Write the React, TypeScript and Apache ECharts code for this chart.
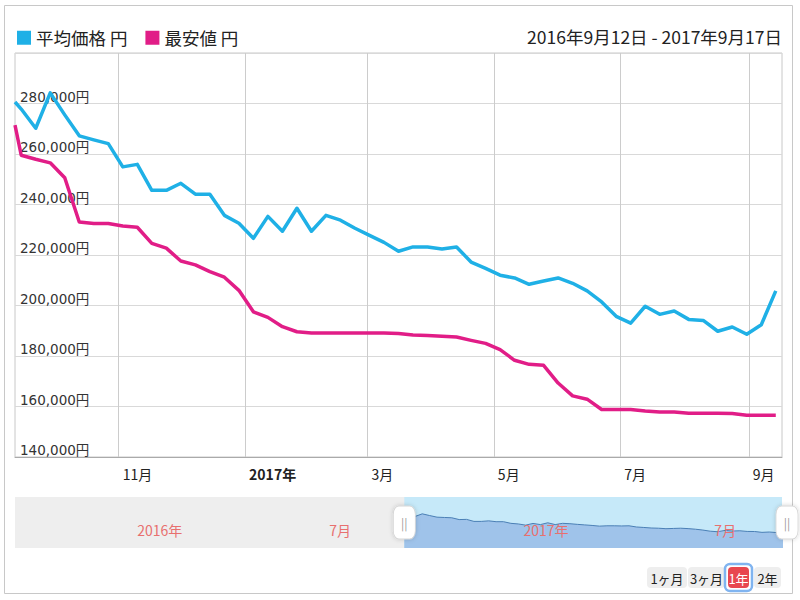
import React, { useEffect, useRef } from 'react';
import * as echarts from 'echarts';

const FONT = '"Noto Sans CJK JP", "Noto Sans", sans-serif';
const BLUE = '#1fb0e6';
const PINK = '#e11d87';
const DAY = 86400000;
const t = (y: number, m: number, d: number) => new Date(y, m - 1, d).getTime();

// first sample (range start) then weekly samples from 2016-09-15
const firstDate = t(2016, 9, 12);
const weeklyStart = t(2016, 9, 15);
const dates: number[] = [firstDate, ...Array.from({ length: 53 }, (_, i) => weeklyStart + i * 7 * DAY)];

const avgPrice = [
  280600, 277800, 270200, 284200, 275500, 267200, 265600, 264100, 254900, 255900,
  245600, 245600, 248400, 244100, 244100, 235700, 232600, 226600, 235300, 229400,
  238500, 229400, 235700, 233800, 230600, 227800, 225000, 221500, 223200, 223200,
  222400, 223200, 217200, 214700, 212000, 210900, 208400, 209700, 210900, 208800,
  205800, 201400, 195700, 193000, 199700, 196500, 197800, 194500, 194100, 189800,
  191500, 188600, 192400, 205800,
];
const minPrice = [
  271400, 259500, 257900, 256500, 250600, 233100, 232500, 232500, 231500, 231000,
  224600, 222700, 217600, 216100, 213400, 211200, 206000, 197500, 195300, 191600,
  189600, 189100, 189100, 189100, 189100, 189100, 189100, 188900, 188300, 188100,
  187800, 187500, 186200, 185000, 182500, 178300, 176700, 176300, 169300, 164200,
  162900, 158800, 158800, 158800, 158200, 157800, 157800, 157300, 157300, 157300,
  157200, 156500, 156500, 156500,
];

const seriesNames = ['平均価格 円', '最安値 円'];
const rangeText = '2016年9月12日 - 2017年9月17日';

const mainTicks = [t(2016, 11, 1), t(2017, 1, 1), t(2017, 3, 1), t(2017, 5, 1), t(2017, 7, 1), t(2017, 9, 1)];
const mainTickLabels = ['11月', '2017年', '3月', '5月', '7月', '9月'];
const navTicks = [t(2016, 1, 1), t(2016, 7, 1), t(2017, 1, 1), t(2017, 7, 1)];
const navTickLabels = ['2016年', '7月', '2017年', '7月'];
const yTicksMin = 140000;
const yTicksMax = 300000;
const yTickStep = 20000;

const viewStart = t(2016, 9, 12);
const viewEnd = t(2017, 9, 17);
const navStart = t(2015, 9, 9);
const navEnd = t(2017, 9, 5);

const rangeButtons = [
  { label: '1ヶ月', x: 647, w: 40, active: false },
  { label: '3ヶ月', x: 688, w: 37, active: false },
  { label: '1年', x: 728, w: 21, active: true },
  { label: '2年', x: 754, w: 27, active: false },
];

const labelFor = (ticks: number[], labels: string[], boldYear: boolean) => (v: number) => {
  let best = 0;
  let bd = Infinity;
  ticks.forEach((tk, i) => {
    const d = Math.abs(tk - v);
    if (d < bd) { bd = d; best = i; }
  });
  const s = labels[best];
  return boldYear && s.endsWith('年') ? `{b|${s}}` : s;
};

function buildOption() {
  const avgData = dates.map((d, i) => [d, avgPrice[i]]);
  const minData = dates.map((d, i) => [d, minPrice[i]]);
  const graphics: any[] = [
    {
      type: 'rect', silent: true, z: -10,
      shape: { x: 4.5, y: 5.5, width: 788, height: 588 },
      style: { fill: 'none', stroke: '#c8c8c8', lineWidth: 1 },
    },
  ];
  rangeButtons.forEach((b) => {
    if (b.active) {
      graphics.push({
        type: 'rect', silent: true,
        shape: { x: b.x - 3, y: 564, width: b.w + 6, height: 27, r: 5 },
        style: { fill: 'none', stroke: '#80b4f0', lineWidth: 2.5 },
      });
    }
    graphics.push({
      type: 'rect', silent: true,
      shape: { x: b.x, y: 567, width: b.w, height: 21, r: 4 },
      style: { fill: b.active ? '#e8474f' : '#eeeeee' },
    });
    graphics.push({
      type: 'text', silent: true,
      x: b.x + b.w / 2, y: 578,
      style: {
        text: b.label, fill: b.active ? '#ffffff' : '#222222', fontSize: 13,
        fontFamily: FONT, align: 'center', verticalAlign: 'middle',
      },
    });
  });

  return {
    animation: false,
    backgroundColor: '#ffffff',
    textStyle: { fontFamily: FONT },
    title: {
      text: rangeText, right: 13, top: 23,
      textStyle: { fontSize: 17.5, fontWeight: 'normal', color: '#222', fontFamily: FONT },
    },
    legend: {
      left: 12, top: 24, icon: 'rect', itemWidth: 14, itemHeight: 14, itemGap: 18,
      textStyle: { fontSize: 17.5, color: '#222', fontFamily: FONT },
      data: seriesNames,
    },
    grid: [
      { left: 15, top: 53, width: 767, height: 404, show: true, borderColor: '#c8c8c8', borderWidth: 1, outerBoundsMode: 'none' },
      { left: 15, top: 497, width: 767, height: 51, show: true, backgroundColor: '#eeeeee', borderWidth: 0, outerBoundsMode: 'none' },
    ],
    xAxis: [
      {
        type: 'value', gridIndex: 0, min: viewStart, max: viewEnd,
        axisLine: { show: true, lineStyle: { color: '#aaaaaa' } },
        axisTick: { show: false, customValues: mainTicks },
        axisLabel: {
          customValues: mainTicks, formatter: labelFor(mainTicks, mainTickLabels, true),
          align: 'left', margin: 10, padding: [0, 0, 0, 4], fontSize: 14, color: '#222', fontFamily: FONT,
          rich: { b: { fontWeight: 'bold', fontSize: 14, color: '#222', fontFamily: FONT } },
        },
        splitLine: { show: true, lineStyle: { color: '#cccccc', width: 1 } },
      },
      {
        type: 'value', gridIndex: 1, min: navStart, max: navEnd, z: 10,
        axisLine: { show: false },
        axisTick: { show: false, customValues: navTicks },
        axisLabel: {
          inside: true, customValues: navTicks, formatter: labelFor(navTicks, navTickLabels, false),
          align: 'left', margin: 11, padding: [0, 0, 0, 2], fontSize: 14, color: '#e8706f', fontFamily: FONT,
        },
        splitLine: { show: false },
      },
    ],
    yAxis: [
      {
        type: 'value', gridIndex: 0, min: yTicksMin, max: yTicksMax, interval: yTickStep,
        axisLine: { show: false }, axisTick: { show: false },
        axisLabel: {
          inside: true, margin: 5, verticalAlign: 'bottom', showMaxLabel: false,
          formatter: (v: number) => v.toLocaleString('en-US') + '円',
          fontSize: 13.5, color: '#333', fontFamily: '"DejaVu Sans", "Noto Sans CJK JP", sans-serif',
        },
        splitLine: { show: true, lineStyle: { color: '#d9d9d9' } },
      },
      { type: 'value', gridIndex: 1, min: 110000, max: 370000, show: false },
    ],
    series: [
      {
        name: seriesNames[0], type: 'line', xAxisIndex: 0, yAxisIndex: 0, data: avgData,
        symbol: 'none', z: 3, color: BLUE, itemStyle: { color: BLUE },
        lineStyle: { color: BLUE, width: 3.5, join: 'round' },
      },
      {
        name: seriesNames[1], type: 'line', xAxisIndex: 0, yAxisIndex: 0, data: minData,
        symbol: 'none', z: 3, color: PINK, itemStyle: { color: PINK },
        lineStyle: { color: PINK, width: 3.5, join: 'round' },
      },
      {
        type: 'line', xAxisIndex: 1, yAxisIndex: 1, data: [], z: 1, silent: true,
        markArea: {
          silent: true, itemStyle: { color: '#c6e9f9' },
          data: [[{ xAxis: viewStart }, { xAxis: navEnd }]],
        },
      },
      {
        type: 'line', xAxisIndex: 1, yAxisIndex: 1, data: avgData, z: 2, silent: true,
        symbol: 'none', lineStyle: { color: '#4a7fb5', width: 1 },
        areaStyle: { color: '#9fc3ea', opacity: 1 },
        markPoint: {
          silent: true, symbol: 'roundRect', symbolSize: [22, 33],
          itemStyle: { color: '#ffffff', borderColor: '#d6d6d6', borderWidth: 1, shadowBlur: 4, shadowColor: 'rgba(0,0,0,0.18)' },
          label: { show: true, formatter: '||', color: '#999', fontSize: 12, position: 'inside' },
          data: [
            { coord: [viewStart, 240000] },
            { coord: [navEnd, 240000], symbolOffset: [5, 0] },
          ],
        },
      },
    ],
    graphic: graphics,
  };
}

export default function App() {
  const ref = useRef<HTMLDivElement>(null);
  useEffect(() => {
    if (!ref.current) return;
    const chart = echarts.init(ref.current, null, { renderer: 'svg' });
    chart.setOption(buildOption() as any);
    return () => chart.dispose();
  }, []);
  return <div ref={ref} style={{ position: 'absolute', left: 0, top: 0, width: 800, height: 600 }} />;
}
